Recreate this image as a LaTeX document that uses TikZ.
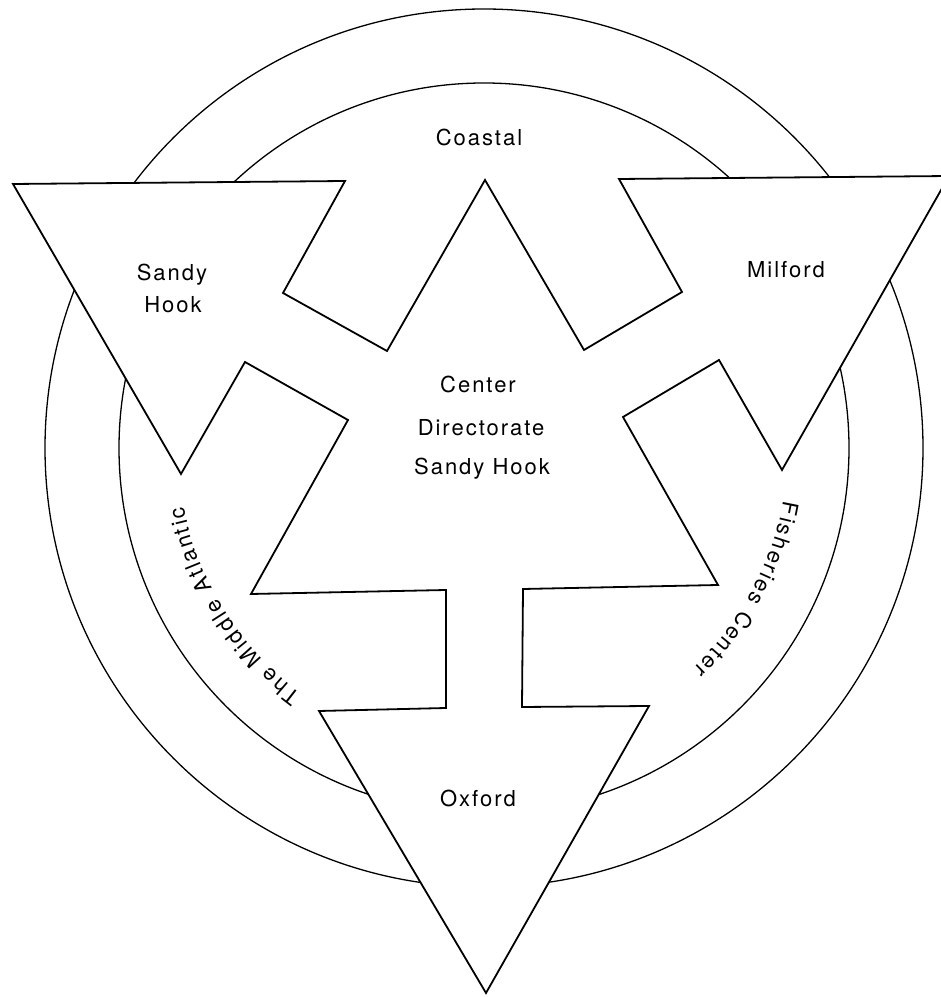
\documentclass[tikz,border=0pt]{standalone}
\usepackage{fontspec}
\usetikzlibrary{calc,decorations.text}
\newfontfamily\lblfont{TeX Gyre Heros}[LetterSpace=9]
\newfontfamily\arcfont{TeX Gyre Heros}
\newcommand{\lblsize}{\fontsize{22}{26}\selectfont}
\begin{document}
\begin{tikzpicture}[x=1pt,y=1pt,
  ring/.style={line width=1.3pt},
  outline/.style={line width=1.8pt, line join=miter, fill=white},
  lbl/.style={font=\lblfont\lblsize, anchor=base, inner sep=0pt},
  arctext/.style={decorate, decoration={text along path, text align={fit to path},
     text={|\arcfont\lblsize|#1}}}
]
\useasboundingbox (0,0) rectangle (941,997);
\clip (0,0) rectangle (941,997);
\coordinate (C) at (484,549);
% rings
\draw[ring] (C) circle[radius=439];
\draw[ring] (C) circle[radius=365];
% emblem outline
\draw[outline]
  (13,813) -- (345,816) -- (283,704) -- (387,646) -- (485,817) -- (584,647)
  -- (682,705) -- (619,818) -- (949,821) -- (782,527) -- (719,637) -- (623,580)
  -- (718,412) -- (523,408) -- (522,290) -- (649,291) -- (486,4) -- (319,286)
  -- (446,289) -- (446,407) -- (251,403) -- (348,577) -- (245,635) -- (181,523)
  -- cycle;
% labels
\node[lbl] (coastal) at (479,851) {Coastal};
\node[lbl] (sandy) at (172,716) {Sandy};
\node[lbl] (hook) at (173,684) {Hook};
\node[lbl] (milford) at (786,719) {Milford};
\node[lbl] (center) at (478,604) {Center};
\node[lbl] (directorate) at (481,561) {Directorate};
\node[lbl] (sandyhook) at (482,522) {Sandy Hook};
\node[lbl] (oxford) at (478,190) {Oxford};
% curved labels
\path[arctext={The Middle Atlantic}] ($(C)+(233.5:306)$) arc[start angle=233.5, end angle=191, radius=306];
\path[arctext={Fisheries Center}] ($(C)+(-10:304)$) arc[start angle=-10, end angle=-46.5, radius=304];
\end{tikzpicture}
\end{document}
